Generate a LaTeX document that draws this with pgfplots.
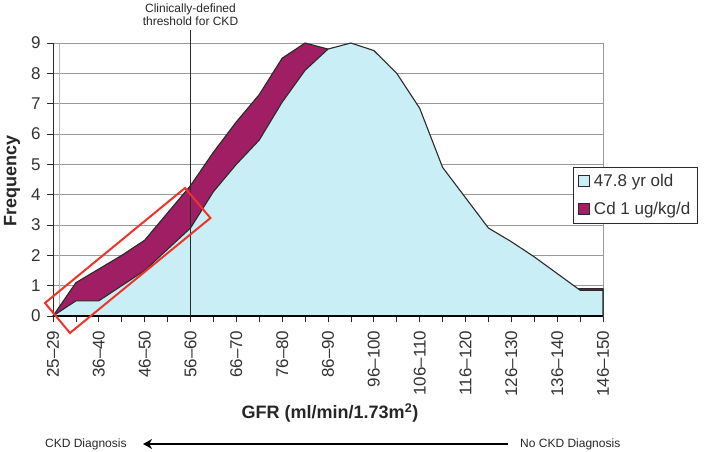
\documentclass[border=0pt]{standalone}
\usepackage{pgfplots}
\pgfplotsset{compat=1.18}
\usepackage{fontspec}
\setmainfont{Liberation Sans}
\usetikzlibrary{arrows.meta}
\definecolor{cyanfill}{HTML}{CAEEF5}
\definecolor{cdmag}{HTML}{A01E64}
\definecolor{edge}{HTML}{2A2A2A}
\definecolor{gridc}{HTML}{999999}
\definecolor{redbox}{HTML}{EE3328}

\pgfplotstableread{
x y
0 0
1 0.5
2 0.5
3 1.0
4 1.5
5 2.2
6 2.9
7 4.1
8 5.0
9 5.8
10 7.05
11 8.1
12 8.8
13 9.0
14 8.75
15 8.0
16 6.85
17 4.9
18 3.9
19 2.9
20 2.45
21 1.95
22 1.4
23 0.85
24 0.85
}\agetable

\pgfplotstableread{
x y
0 0
1 1.1
2 1.55
3 2.0
4 2.5
5 3.4
6 4.3
7 5.4
8 6.4
9 7.3
10 8.5
11 9.0
12 8.8
13 8.0
14 6.85
15 4.9
16 3.9
17 2.9
18 2.45
19 1.95
20 1.4
21 0.85
22 0.85
23 0.9
24 0.9
}\cdtable

\begin{document}
\begin{tikzpicture}
\begin{axis}[
  at={(53pt,135pt)}, anchor=south west,
  scale only axis, width=550pt, height=273pt,
  xmin=0, xmax=24, ymin=0, ymax=9,
  clip=false,
  axis line style={draw=gridc, line width=0.8pt},
  xtick={0,...,24},
  xticklabels={25--29,,36--40,,46--50,,56--60,,66--70,,76--80,,86--90,,96--100,,106--110,,116--120,,126--130,,136--140,,146--150},
  ytick={0,...,9},
  ymajorgrids,
  grid style={gridc, line width=0.8pt},
  tick align=outside,
  xtick pos=lower, ytick pos=left,
  major tick length=6pt,
  tick style={edge, line width=0.8pt},
  /pgf/number format/assume math mode=true,
  ticklabel style={font=\fontsize{17}{19}\selectfont, text=black!80},
  xticklabel style={rotate=90, anchor=east},
  xticklabel shift=5pt,
  yticklabel style={xshift=-3pt},
  xlabel={GFR (ml/min/1.73m\textsuperscript{2})},
  xlabel style={at={(axis description cs:0.5036,-0.355)}, anchor=center, font=\fontsize{18}{20}\selectfont\bfseries, text=black!85},
  ylabel={Frequency},
  ylabel style={at={(axis description cs:-0.0745,0.4945)}, anchor=center, rotate=0, font=\fontsize{18}{20}\selectfont\bfseries, text=black!85},
  legend style={at={(axis description cs:0.9455,0.5458)}, anchor=north west,
    draw=edge, fill=white, line width=0.7pt,
    font=\fontsize{17}{19}\selectfont, text=black!80,
    inner xsep=5pt, inner ysep=5pt, row sep=10pt, column sep=2pt},
  legend cell align=left,
  reverse legend,
  legend image code/.code={\draw[#1, draw=edge, line width=0.6pt] (0pt,-5.5pt) rectangle (11pt,5.5pt);},
]
\draw[gridc!70, line width=0.8pt] (axis cs:0.3,0) -- (axis cs:0.3,9);
\addplot[fill=cdmag, draw=edge, line width=1.1pt] table[x=x,y=y] {\cdtable} \closedcycle;
\addlegendentry{Cd 1 ug/kg/d}
\addplot[fill=cyanfill, draw=edge, line width=1.1pt] table[x=x,y=y] {\agetable} \closedcycle;
\addlegendentry{47.8 yr old}
% floor and y axis lines
\draw[black, line width=1.6pt] (axis cs:0,0) -- (axis cs:24,0);
\draw[edge, line width=0.9pt] (axis cs:0,0) -- (axis cs:0,9);
% threshold line
\draw[edge, line width=0.9pt] (axis cs:6,0) -- (axis cs:6,9.43);
\node[align=center, font=\fontsize{12}{13.5}\selectfont, text=black!85] at (axis cs:6,9.94) {Clinically-defined\\threshold for CKD};
% red highlight box
\draw[redbox, line width=2pt, line join=miter] (axis cs:-0.35,0.43) -- (axis cs:5.76,4.22) -- (axis cs:6.87,3.23) -- (axis cs:0.74,-0.56) -- cycle;
% bottom annotation
\node[anchor=west, font=\fontsize{12}{14}\selectfont, text=black!85, inner sep=0pt] at (axis cs:-0.35,-4.22) {CKD Diagnosis};
\draw[black, line width=2.6pt, -{Stealth[length=9pt, width=10pt]}] (axis cs:19.85,-4.22) -- (axis cs:3.93,-4.22);
\node[anchor=west, font=\fontsize{12}{14}\selectfont, text=black!85, inner sep=0pt] at (axis cs:20.38,-4.22) {No CKD Diagnosis};
\end{axis}
\pgfresetboundingbox
\path (0,0) rectangle (708pt,451pt);
\end{tikzpicture}
\end{document}
